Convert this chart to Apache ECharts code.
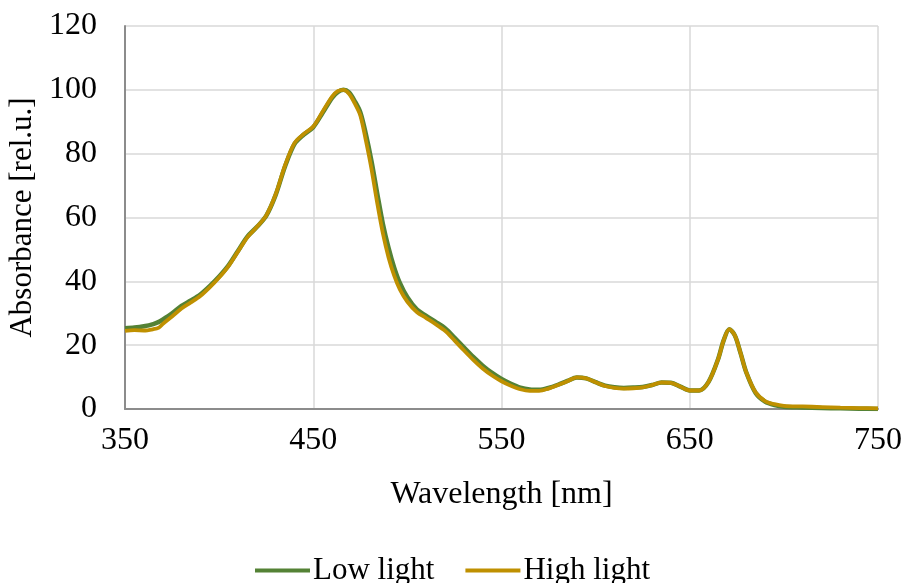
<!DOCTYPE html>
<html>
<head>
<meta charset="utf-8">
<script src="https://cdn.jsdelivr.net/npm/echarts@6/dist/echarts.min.js"></script>
<style>html,body{margin:0;padding:0;background:#fff}#c{width:905px;height:583px}</style>
</head>
<body>
<div id="c"></div>
<script>
const wavelengths = [350,355,360,365,368,370,375,380,385,390,395,400,405,410,415,420,425,430,435,440,445,450,455,460,463,466,469,472,475,478,481,484,487,490,493,496,500,505,510,515,520,525,530,535,540,545,550,555,560,565,570,575,580,585,590,595,600,605,610,615,620,625,630,635,640,645,650,655,660,665,668,671,674,677,680,685,690,695,700,710,720,730,740,750];
const lowLight = [25.3,25.5,25.9,26.6,27.3,28.0,30.0,32.3,34.0,35.9,38.5,41.5,45.0,49.5,54.0,57.0,60.5,67.0,76.0,83.0,86.0,88.3,92.8,97.5,99.3,100,99.2,96.5,93.0,86.0,77.5,67.5,58.0,50.5,44.3,39.5,35.0,31.2,29.2,27.3,25.3,22.4,19.3,16.3,13.6,11.3,9.4,7.9,6.7,6.1,6.0,6.6,7.6,8.8,9.9,9.6,8.4,7.3,6.8,6.6,6.7,6.9,7.5,8.3,8.2,7.0,5.8,5.8,8.5,15.5,21.5,25.0,23.0,17.5,11.5,5.0,2.3,1.2,0.7,0.5,0.3,0.2,0.1,0.0];
const highLight = [24.5,24.7,24.6,25.0,25.5,26.6,29.0,31.5,33.4,35.4,38.1,41.2,44.8,49.3,53.8,57.0,60.6,67.2,76.3,83.3,86.2,88.5,93.2,97.9,99.6,100,98.8,95.8,92.0,84.0,75.0,64.5,55.0,47.5,41.8,37.5,33.6,30.4,28.5,26.6,24.5,21.5,18.4,15.4,12.7,10.5,8.7,7.3,6.2,5.7,5.7,6.4,7.5,8.7,9.9,9.6,8.4,7.2,6.6,6.4,6.5,6.8,7.5,8.3,8.2,7.0,5.8,5.8,8.5,15.5,21.5,25.0,23.0,17.5,11.5,5.2,2.5,1.5,1.0,0.8,0.6,0.4,0.3,0.2];
const seriesNames = ['Low light','High light'];
const xTicks = {min:350, max:750, interval:100};
const yTicks = {min:0, max:120, interval:20};

const font = '"Times New Roman","Liberation Serif",serif';
const chart = echarts.init(document.getElementById('c'));
const pairs = arr => wavelengths.map((w,i)=>[w,arr[i]]);
chart.setOption({
  animation:false,
  grid:{left:125, right:27, top:26, bottom:174, containLabel:false, outerBoundsMode:'none'},
  legend:{
    top:550, left:'center',
    data:seriesNames.map(n=>({name:n, icon:'rect'})),
    itemWidth:55, itemHeight:4, itemGap:31,
    textStyle:{fontFamily:font, fontSize:31, color:'#000', padding:[0,0,0,-2]}
  },
  xAxis:{
    type:'value', min:xTicks.min, max:xTicks.max, interval:xTicks.interval,
    name:'Wavelength [nm]', nameLocation:'middle', nameGap:70,
    nameTextStyle:{fontFamily:font, fontSize:32, color:'#000'},
    axisLabel:{fontFamily:font, fontSize:32, color:'#000', margin:16},
    axisLine:{lineStyle:{color:'#8c8c8c', width:2}},
    axisTick:{show:false},
    splitLine:{show:true, lineStyle:{color:'#d9d9d9', width:1.5}}
  },
  yAxis:{
    type:'value', min:yTicks.min, max:yTicks.max, interval:yTicks.interval,
    name:'Absorbance [rel.u.]', nameLocation:'middle', nameGap:81,
    nameTextStyle:{fontFamily:font, fontSize:31, color:'#000'},
    axisLabel:{fontFamily:font, fontSize:32, color:'#000', margin:28},
    axisLine:{show:true, lineStyle:{color:'#8c8c8c', width:2}},
    axisTick:{show:false},
    splitLine:{show:true, lineStyle:{color:'#d9d9d9', width:1.5}}
  },
  series:[
    {name:seriesNames[0], type:'line', data:pairs(lowLight), smooth:0.3, showSymbol:false,
     lineStyle:{color:'#548235', width:4.5}, itemStyle:{color:'#548235'}},
    {name:seriesNames[1], type:'line', data:pairs(highLight), smooth:0.3, showSymbol:false,
     lineStyle:{color:'#BF9000', width:3.8}, itemStyle:{color:'#BF9000'}}
  ]
});
</script>
</body>
</html>
